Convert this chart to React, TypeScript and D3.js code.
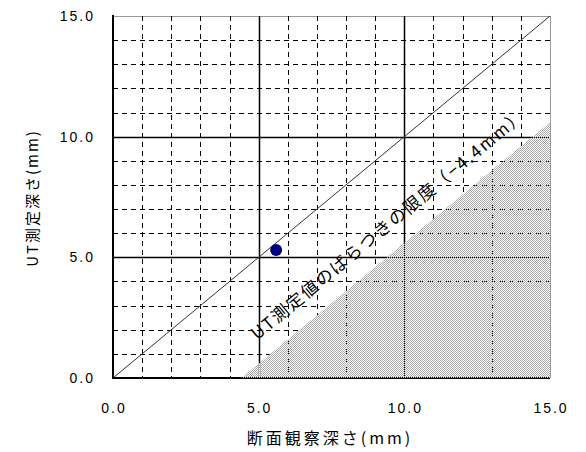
import React from "react";
import * as d3 from "d3";

const xTicks = [0, 5, 10, 15];
const yTicks = [0, 5, 10, 15];
const tickLabels = ["0.0", "5.0", "10.0", "15.0"];
const minorGrid = [1, 2, 3, 4, 6, 7, 8, 9, 11, 12, 13, 14];
const majorGrid = [5, 10];
const points = [{ x: 5.6, y: 5.3 }];
const limitOffset = 4.4;
const domainMax = 15;
const xTitle = "断面観察深さ(mm)";
const yTitle = "UT測定深さ(mm)";
const annotation = "UT測定値のばらつきの限度（−4.4mm）";

const W = 586;
const H = 452;

export default function App() {
  const x = d3.scaleLinear().domain([0, domainMax]).range([113, 550]);
  const y = d3.scaleLinear().domain([0, domainMax]).range([378, 16]);
  const px = (v: number) => Math.round(x(v)) + 0.5;
  const py = (v: number) => Math.round(y(v)) + 0.5;

  const shade: [number, number][] = [
    [limitOffset, 0],
    [domainMax, 0],
    [domainMax, domainMax - limitOffset],
  ];
  const line = d3
    .line<[number, number]>()
    .x((d) => x(d[0]))
    .y((d) => y(d[1]));

  const angle = (Math.atan2(y(0) - y(1), x(1) - x(0)) * 180) / Math.PI;
  const ax = x(4.95);
  const ay = y(1.55);

  const font = "'Liberation Sans', Arial, sans-serif";
  const jfont = "'Noto Sans CJK JP', sans-serif";

  return (
    <svg
      width={W}
      height={H}
      style={{ position: "absolute", left: 0, top: 0, background: "#fff" }}
    >
      <defs>
        <pattern id="chk" patternUnits="userSpaceOnUse" width={2} height={2}>
          <rect x={0} y={0} width={1} height={1} fill="#a8a8a8" />
          <rect x={1} y={1} width={1} height={1} fill="#a8a8a8" />
          <rect x={1} y={0} width={1} height={1} fill="#ffffff" />
        </pattern>
      </defs>
      {/* top & right borders */}
      <line x1={x(0)} x2={x(15)} y1={py(15)} y2={py(15)} stroke="#999" strokeWidth={1} />
      <line x1={px(15)} x2={px(15)} y1={y(15)} y2={y(0)} stroke="#999" strokeWidth={1} />
      {/* minor grid */}
      {minorGrid.map((v) => (
        <g key={"m" + v}>
          <line
            x1={px(v)}
            x2={px(v)}
            y1={y(15)}
            y2={y(0)}
            stroke="#000"
            strokeWidth={1}
            strokeDasharray="5,4"
          />
          <line
            x1={x(0)}
            x2={x(15)}
            y1={py(v)}
            y2={py(v)}
            stroke="#000"
            strokeWidth={1}
            strokeDasharray="5,4"
          />
        </g>
      ))}
      {/* major grid */}
      {majorGrid.map((v) => (
        <g key={"M" + v}>
          <line x1={px(v)} x2={px(v)} y1={y(15)} y2={y(0)} stroke="#000" strokeWidth={1.5} />
          <line x1={x(0)} x2={x(15)} y1={py(v)} y2={py(v)} stroke="#000" strokeWidth={1.5} />
        </g>
      ))}
      {/* axes */}
      <line x1={x(0)} x2={x(0)} y1={y(15) - 1} y2={y(0) + 1} stroke="#000" strokeWidth={2} />
      <line x1={x(0) - 1} x2={x(15)} y1={y(0)} y2={y(0)} stroke="#000" strokeWidth={2} />
      {/* shaded region */}
      <path d={line(shade) + "Z"} fill="url(#chk)" />
      {/* diagonal */}
      <path
        d={line([
          [0, 0],
          [domainMax, domainMax],
        ]) || ""}
        stroke="#333"
        strokeWidth={1}
        fill="none"
      />
      {/* points */}
      {points.map((p, i) => (
        <circle key={i} cx={x(p.x)} cy={y(p.y)} r={6} fill="#000080" />
      ))}
      {/* annotation */}
      <text
        x={ax}
        y={ay}
        transform={`rotate(${-angle},${ax},${ay})`}
        fontFamily={jfont}
        fontSize={17}
        letterSpacing={2}
        fill="#000"
      >
        {annotation}
      </text>
      {/* y tick labels */}
      {yTicks.map((v, i) => (
        <text
          key={"yt" + v}
          x={95}
          y={y(v)}
          dy="0.35em"
          textAnchor="end"
          fontFamily={font}
          fontSize={14}
          letterSpacing={2}
        >
          {tickLabels[i]}
        </text>
      ))}
      {/* x tick labels */}
      {xTicks.map((v, i) => (
        <text
          key={"xt" + v}
          x={x(v) + 1}
          y={408}
          dy="0.35em"
          textAnchor="middle"
          fontFamily={font}
          fontSize={14}
          letterSpacing={2}
        >
          {tickLabels[i]}
        </text>
      ))}
      {/* axis titles */}
      <text
        x={330}
        y={438}
        dy="0.35em"
        textAnchor="middle"
        fontFamily={jfont}
        fontSize={16}
        letterSpacing={3}
      >
        {xTitle}
      </text>
      <text
        x={33}
        y={198}
        dy="0.35em"
        textAnchor="middle"
        fontFamily={jfont}
        fontSize={15}
        letterSpacing={2}
        transform="rotate(-90,33,198)"
      >
        {yTitle}
      </text>
    </svg>
  );
}
